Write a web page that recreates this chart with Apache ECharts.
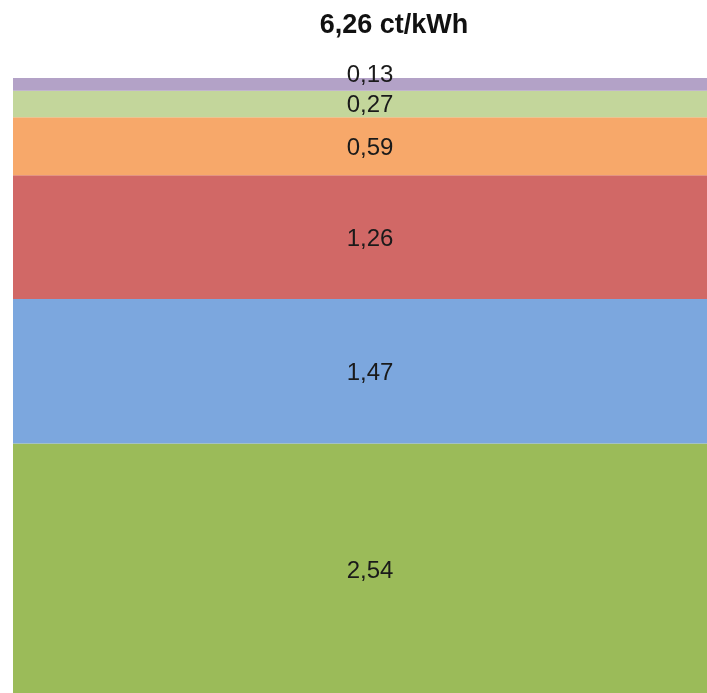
<!DOCTYPE html>
<html><head><meta charset="utf-8">
<script src="https://cdn.jsdelivr.net/npm/echarts@6/dist/echarts.min.js"></script>
<style>html,body{margin:0;padding:0;background:#fff}#c{width:707px;height:693px}</style>
</head><body><div id="c"></div>
<script>
const categories = ['Strompreis'];
const titleText = '6,26 ct/kWh';
const segmentNames = ['A', 'B', 'C', 'D', 'E', 'F'];
const segmentValues = [2.54, 1.47, 1.26, 0.59, 0.27, 0.13];
const segmentColors = ['#9bbb59', '#7ca7de', '#d16866', '#f7a86a', '#c3d69b', '#b3a2c7'];
const labelOffsets = [3, 2, 2, 2, 1, -9];

const chart = echarts.init(document.getElementById('c'));
const total = 6.26;
chart.setOption({
  animation: false,
  title: {
    text: titleText, left: 389, top: 7, textAlign: 'center',
    textStyle: {fontFamily: 'Liberation Sans, Arial', fontSize: 27, fontWeight: 'bold', color: '#111'}
  },
  grid: {left: 13, right: 0, top: 78, bottom: 0, containLabel: false},
  xAxis: {type: 'category', data: categories, show: false},
  yAxis: {type: 'value', min: 0, max: total, show: false},
  series: segmentValues.map((v, i) => ({
    name: segmentNames[i], type: 'bar', stack: 'total',
    data: [v], barWidth: '100%', barCategoryGap: '0%',
    itemStyle: {color: segmentColors[i]},
    label: {
      show: true, position: 'inside', offset: [10, labelOffsets[i]],
      formatter: p => p.value.toFixed(2).replace('.', ','),
      fontFamily: 'Liberation Sans, Arial', fontSize: 24, color: '#1a1a1a'
    }
  }))
});
</script></body></html>
